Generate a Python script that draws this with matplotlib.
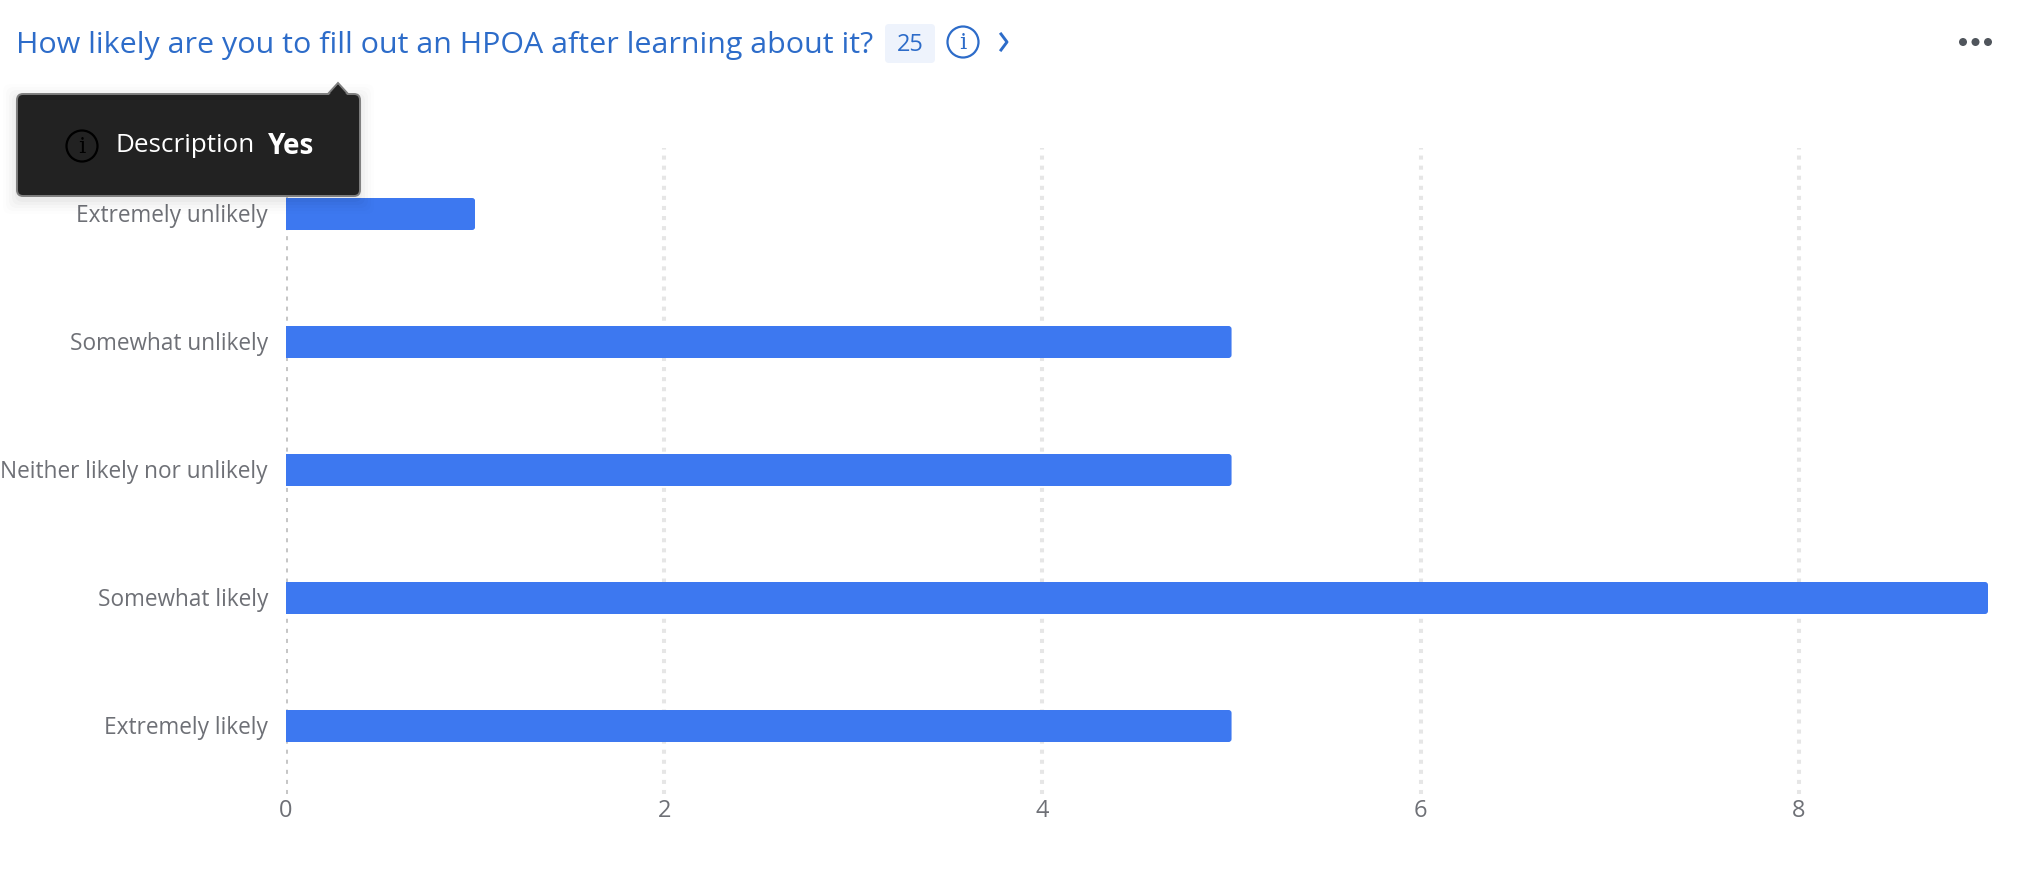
import matplotlib
matplotlib.use("Agg")
import matplotlib.pyplot as plt
from matplotlib.patches import Circle, FancyBboxPatch, Polygon
from matplotlib.lines import Line2D
from matplotlib.transforms import ScaledTranslation

# Survey responses
question = "How likely are you to fill out an HPOA after learning about it?"
response_total = "25"
categories = ["Extremely unlikely", "Somewhat unlikely", "Neither likely nor unlikely",
              "Somewhat likely", "Extremely likely"]
counts = [1, 5, 5, 9, 5]
x_ticks = [0, 2, 4, 6, 8]

WIDTH, HEIGHT = 2030, 884
FONT = ["Open Sans", "DejaVu Sans"]
BLUE = "#3d78f0"
TITLE_BLUE = "#2d6cc9"
GREY_TEXT = "#6e7076"

plt.rcParams["font.family"] = FONT
fig = plt.figure(figsize=(WIDTH / 100, HEIGHT / 100), dpi=100, facecolor="white")


def box(left, top, right, bottom):
    """Axes rectangle from pixel edges measured from the top-left corner."""
    return [left / WIDTH, 1 - bottom / HEIGHT, (right - left) / WIDTH, (bottom - top) / HEIGHT]


# Bar chart
PLOT_LEFT, PLOT_RIGHT, PLOT_TOP, PLOT_BOTTOM = 286, 1988, 148, 794
ROW_STEP, FIRST_ROW = 128, 214
ax = fig.add_axes(box(PLOT_LEFT, PLOT_TOP, PLOT_RIGHT, PLOT_BOTTOM))
ax.set_xlim(0, 9)
ax.set_ylim((PLOT_BOTTOM - FIRST_ROW) / ROW_STEP, (PLOT_TOP - FIRST_ROW) / ROW_STEP)
for side in ax.spines.values():
    side.set_visible(False)

positions = list(range(len(categories)))
bars = ax.barh(positions, counts, height=0.25, color=BLUE, zorder=3)
unit_px = (PLOT_RIGHT - PLOT_LEFT) / 9
aspect = unit_px / ROW_STEP
for bar in bars:
    # Only the far end of each bar has rounded corners
    outline = FancyBboxPatch((-0.2, bar.get_y()), bar.get_width() + 0.2, bar.get_height(),
                             boxstyle=f"round,pad=0,rounding_size={3 / unit_px}",
                             mutation_aspect=aspect, transform=ax.transData)
    bar.set_clip_path(outline)

ax.set_yticks(positions, categories)
ax.set_xticks(x_ticks, [str(t) for t in x_ticks])
ax.tick_params(axis="both", length=0, labelcolor=GREY_TEXT)
ax.tick_params(axis="y", labelsize=16.25, pad=13)
ax.tick_params(axis="x", labelsize=17, pad=3.5)
nudge_up = ScaledTranslation(0, 1 / 100, fig.dpi_scale_trans)
for label in ax.get_yticklabels():
    label.set_transform(label.get_transform() + nudge_up)
ax.set_axisbelow(True)
ax.grid(axis="x", color="#e6e6e6", linewidth=2.9, linestyle=(0, (1, 1.5)), zorder=0)
ax.grid(axis="y", visible=False)
ax.get_xgridlines()[0].set_color("#c6c6c6")

# Header and tooltip drawn in pixel coordinates
ui = fig.add_axes([0, 0, 1, 1], zorder=5)
ui.set_xlim(0, WIDTH)
ui.set_ylim(HEIGHT, 0)
ui.axis("off")
ui.patch.set_alpha(0)

ui.text(16, 45, question, color=TITLE_BLUE, fontsize=21.9, va="center", ha="left")
ui.add_patch(FancyBboxPatch((885, 24), 50, 39, boxstyle="round,pad=0,rounding_size=4",
                            fc="#eef3fc", ec="none"))
ui.text(910, 45, response_total, color=TITLE_BLUE, fontsize=17, va="center", ha="center")


def info_icon(x, y, r, color, lw):
    ui.add_patch(Circle((x, y), r, fc="none", ec=color, lw=lw, zorder=8))
    ui.text(x, y + 1, "i", color=color, fontsize=r * 1.05, ha="center", va="center",
            family="DejaVu Serif", zorder=8)


info_icon(963, 42, 15.5, TITLE_BLUE, 1.6)
ui.add_line(Line2D([1001, 1007, 1001], [34, 42, 50], color=TITLE_BLUE, lw=2.1))
for cx in (1963, 1975.5, 1988):
    ui.add_patch(Circle((cx, 42), 4, fc="#50555c", ec="none"))

# Soft shadow around the tooltip
for grow, alpha in ((14, 0.006), (11, 0.01), (8, 0.014), (5, 0.018), (2, 0.025)):
    ui.add_patch(FancyBboxPatch((17 - grow, 94 - grow + 4), 343 + 2 * grow, 102 + 2 * grow,
                                boxstyle="round,pad=0,rounding_size=8", fc="black", ec="none",
                                alpha=alpha, zorder=6))
ui.add_patch(Polygon([[327, 95], [338, 83], [349, 95]], closed=True, fc="#222222",
                     ec="#7f7f7f", lw=1.4, zorder=6.5))
ui.add_patch(FancyBboxPatch((17, 94), 343, 102, boxstyle="round,pad=0,rounding_size=6",
                            fc="#222222", ec="#7f7f7f", lw=1.4, zorder=7))
ui.add_patch(Polygon([[328, 96], [338, 85], [348, 96]], closed=True, fc="#222222",
                     ec="none", zorder=7.5))
info_icon(82, 146, 15.5, "black", 1.6)
ui.text(116, 146, "Description", color="white", fontsize=18.8, va="center", zorder=8)
ui.text(268, 146, "Yes", color="white", fontsize=20, weight="bold", va="center", zorder=8)

fig.savefig("out.png", dpi=100, facecolor="white")
